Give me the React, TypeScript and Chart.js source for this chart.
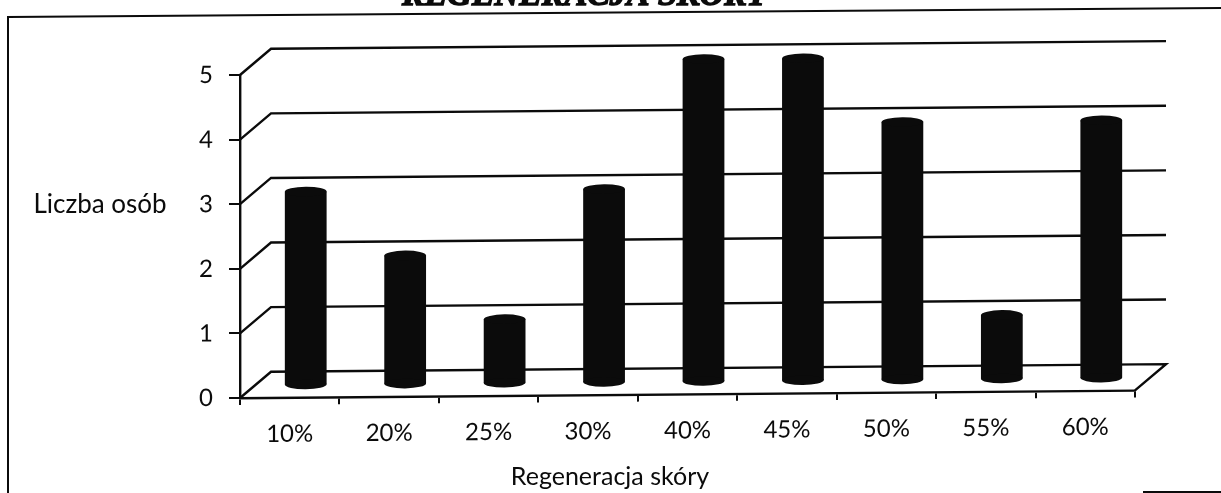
import React, { useEffect, useRef } from "react";
import { Chart, registerables } from "chart.js";

Chart.register(...registerables);

const categories = ["10%", "20%", "25%", "30%", "40%", "45%", "50%", "55%", "60%"];
const people = [3, 2, 1, 3, 5, 5, 4, 1, 4];
const chartTitle = "REGENERACJA SKÓRY";
const yTitle = "Liczba osób";
const xTitle = "Regeneracja skóry";

const INK = "#0b0b0b";
const FONT = "Lato";
const SHEAR = -0.0085;
const DEPTH_X = 31;
const DEPTH_Y = -26;
const BAR_DX = 16;
const BAR_DY = -12;
const CAP_RY = 4.8;

const scene = {
  id: "scene",
  beforeDraw(chart: any) {
    const { ctx, chartArea } = chart;
    ctx.save();
    ctx.strokeStyle = INK;
    ctx.lineWidth = 2;
    // scanned page frame
    ctx.beginPath();
    ctx.moveTo(8, 493);
    ctx.lineTo(8, 17);
    ctx.lineTo(1221, 8);
    ctx.stroke();
    ctx.beginPath();
    ctx.moveTo(1143, 492);
    ctx.lineTo(1221, 492);
    ctx.stroke();
    // title, cut by the top of the page
    ctx.fillStyle = INK;
    ctx.strokeStyle = INK;
    ctx.lineWidth = 1.5;
    ctx.font = `italic bold 34px "Liberation Serif"`;
    ctx.textAlign = "left";
    ctx.textBaseline = "alphabetic";
    ctx.fillText(chartTitle, 402, 5);
    ctx.strokeText(chartTitle, 402, 5);
    ctx.restore();
    // the whole plot leans slightly, as in the perspective of the source
    ctx.save();
    ctx.transform(1, SHEAR, 0, 1, 0, -SHEAR * chartArea.left);
  },
  beforeDatasetsDraw(chart: any) {
    const { ctx, chartArea, scales } = chart;
    const { left, right } = chartArea;
    ctx.save();
    ctx.strokeStyle = INK;
    ctx.lineWidth = 2.4;
    ctx.lineJoin = "miter";
    scales.y.ticks.forEach((t: any) => {
      const y = scales.y.getPixelForValue(t.value);
      ctx.beginPath();
      ctx.moveTo(left, y);
      ctx.lineTo(left + DEPTH_X, y + DEPTH_Y);
      ctx.lineTo(right + DEPTH_X, y + DEPTH_Y);
      if (t.value === 0) ctx.lineTo(right, y);
      ctx.stroke();
    });
    ctx.restore();
    ctx.save();
    ctx.translate(BAR_DX, BAR_DY);
  },
  afterDatasetsDraw(chart: any) {
    const { ctx } = chart;
    ctx.fillStyle = INK;
    chart.getDatasetMeta(0).data.forEach((bar: any) => {
      const rx = bar.width / 2;
      [bar.y, bar.base].forEach((cy: number) => {
        ctx.beginPath();
        ctx.ellipse(bar.x, cy, rx, CAP_RY, 0, 0, Math.PI * 2);
        ctx.fill();
      });
    });
    ctx.restore();
  },
  afterDraw(chart: any) {
    const { ctx } = chart;
    ctx.restore();
    ctx.save();
    ctx.fillStyle = INK;
    ctx.textBaseline = "middle";
    ctx.textAlign = "center";
    ctx.font = `26px "${FONT}"`;
    ctx.fillText(yTitle, 100, 205);
    ctx.font = `25px "${FONT}"`;
    ctx.fillText(xTitle, 610, 477);
    ctx.restore();
  },
};

export default function App() {
  const ref = useRef<HTMLCanvasElement>(null);
  useEffect(() => {
    const chart = new Chart(ref.current!, {
      type: "bar",
      data: {
        labels: categories,
        datasets: [
          {
            data: people,
            backgroundColor: INK,
            borderWidth: 0,
            barPercentage: 0.42,
            categoryPercentage: 1,
            clip: false,
          } as any,
        ],
      },
      options: {
        animation: false,
        responsive: false,
        devicePixelRatio: 1,
        layout: { padding: { top: 75, right: 86, left: 0, bottom: 0 } },
        plugins: { legend: { display: false }, title: { display: false }, tooltip: { enabled: false } },
        scales: {
          x: {
            afterFit(s: any) {
              s.height = 95;
            },
            border: { display: true, color: INK, width: 2.4 },
            grid: { drawOnChartArea: false, drawTicks: true, tickLength: 7, color: INK, lineWidth: 2 },
            ticks: {
              color: INK,
              padding: 15,
              maxRotation: 0,
              font: { family: FONT, size: 24 },
            },
          },
          y: {
            min: 0,
            max: 5,
            afterFit(s: any) {
              s.width = 240;
            },
            border: { display: true, color: INK, width: 2.4 },
            grid: { drawOnChartArea: false, drawTicks: true, tickLength: 11, color: INK, lineWidth: 2 },
            ticks: {
              stepSize: 1,
              color: INK,
              padding: 16,
              font: { family: FONT, size: 24 },
            },
          },
        },
      } as any,
      plugins: [scene],
    });
    return () => chart.destroy();
  }, []);
  return (
    <canvas
      ref={ref}
      width={1221}
      height={493}
      style={{ position: "fixed", left: 0, top: 0, width: 1221, height: 493, display: "block" }}
    />
  );
}
